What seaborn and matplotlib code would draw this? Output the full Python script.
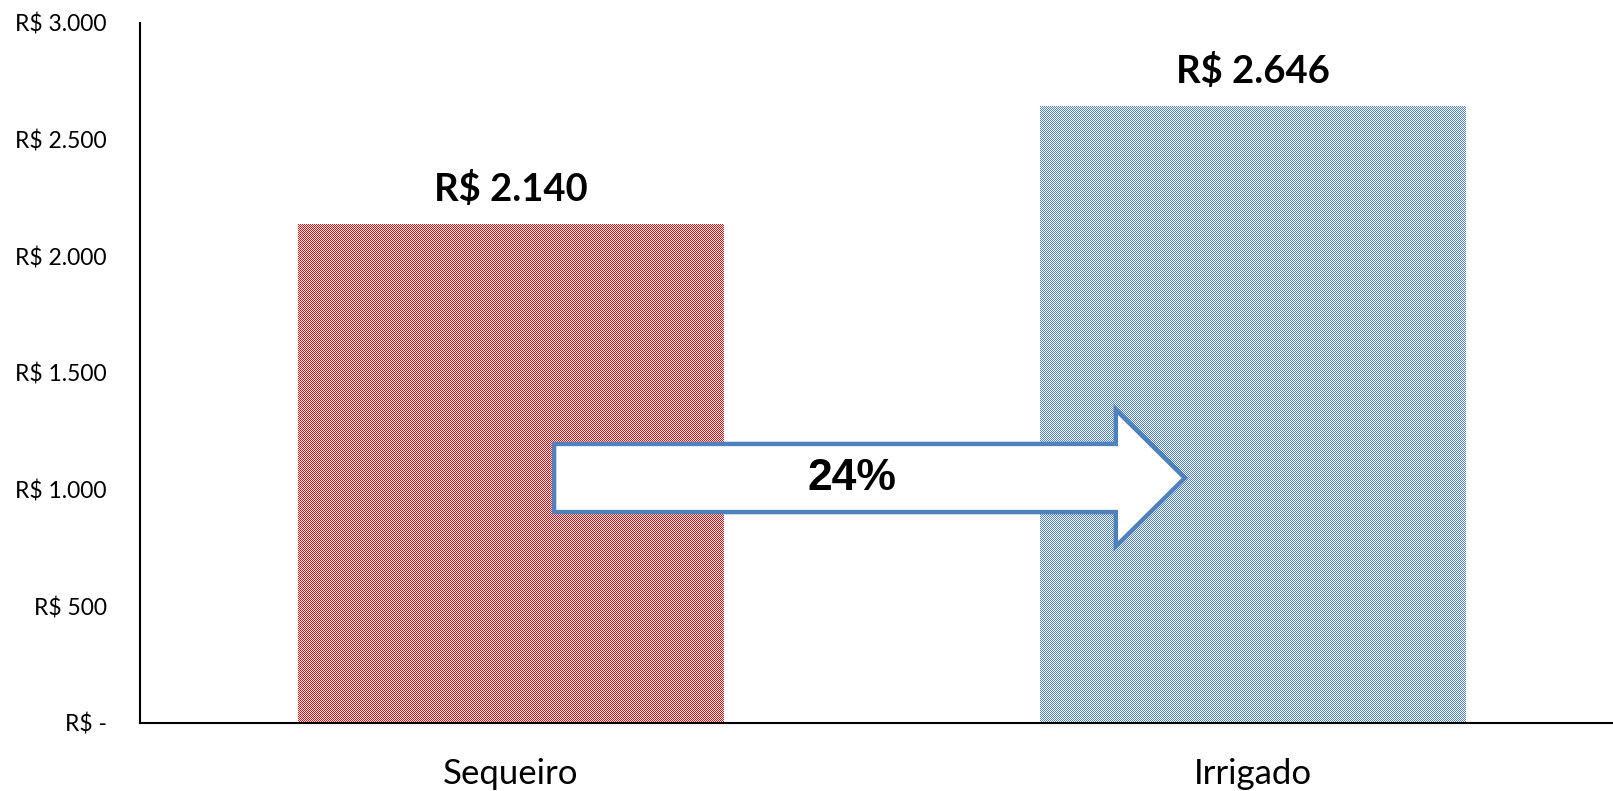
import numpy as np
import pandas as pd
import matplotlib
matplotlib.use('Agg')
import matplotlib.pyplot as plt
import seaborn as sns
from matplotlib.patches import Polygon
from matplotlib.ticker import FuncFormatter

# data
categorias = ['Sequeiro', 'Irrigado']
valores = [2140, 2646]
cores = ['#FF0000', '#4A7EC8']
y_ticks = [0, 500, 1000, 1500, 2000, 2500, 3000]

df = pd.DataFrame({'sistema': categorias, 'valor': valores})

sns.set_style('white')
plt.rcParams['font.family'] = ['Lato', 'DejaVu Sans']
plt.rcParams['text.color'] = 'black'
plt.rcParams['xtick.labelcolor'] = 'black'
plt.rcParams['ytick.labelcolor'] = 'black'

fig = plt.figure(figsize=(16.13, 7.91), dpi=100)
ax = fig.add_axes([140 / 1613, 68 / 791, 1 - 140 / 1613, (723 - 23) / 791])

sns.barplot(data=df, x='sistema', y='valor', hue='sistema', palette=cores,
            saturation=1, width=0.574, linewidth=0, legend=False, ax=ax)

def moeda(v, pos=None):
    if v == 0:
        return 'R$ -'
    return 'R$ ' + f'{v:,.0f}'.replace(',', '.')

ax.set_ylim(0, 3000)
ax.set_xlim(-0.5, 1.485)
ax.set_yticks(y_ticks)
ax.yaxis.set_major_formatter(FuncFormatter(moeda))
ax.tick_params(axis='y', length=0, pad=24, labelsize=16.5, labelcolor='black')
ax.tick_params(axis='x', length=0, pad=25, labelsize=25, labelcolor='black')
ax.set_xlabel('')
ax.set_ylabel('')
sns.despine(ax=ax)
for s in ['left', 'bottom']:
    ax.spines[s].set_color('black')
    ax.spines[s].set_linewidth(1.5)

# value labels
for cont in ax.containers:
    ax.bar_label(cont, labels=[moeda(b.get_height()) for b in cont],
                 padding=12, fontsize=27.5, fontweight='bold', color='black')

# 1px checker texture of the pattern fill
fig.canvas.draw()
for bar in ax.patches:
    bb = bar.get_window_extent()
    x0, y0 = int(round(bb.x0)), int(round(bb.y0)) + 1
    w, h = int(round(bb.x1)) - x0, int(round(bb.y1)) - y0
    chk = (np.indices((h, w)).sum(axis=0) % 2).astype(float)
    img = np.ones((h, w, 4))
    img[..., 3] = chk
    fig.figimage(img, xo=x0, yo=y0, zorder=1.5)

# growth arrow
cresc = valores[1] / valores[0] - 1
y_mid = 1050
pts = [(0.058, y_mid - 146), (0.058, y_mid + 146), (0.815, y_mid + 146),
       (0.815, y_mid + 293), (0.908, y_mid), (0.815, y_mid - 293),
       (0.815, y_mid - 146)]
seta = Polygon(pts, closed=True, transform=ax.transData, facecolor='white',
               edgecolor='#4F81BD', linewidth=3.2, joinstyle='miter', zorder=3)
fig.add_artist(seta)
fig.text(0.46, y_mid, f'{cresc:.0%}', transform=ax.transData, zorder=4,
         ha='center', va='center', fontsize=32, fontweight='bold',
         color='black', family=['Liberation Sans Narrow', 'Liberation Sans'])

fig.savefig('out.png', dpi=100)
